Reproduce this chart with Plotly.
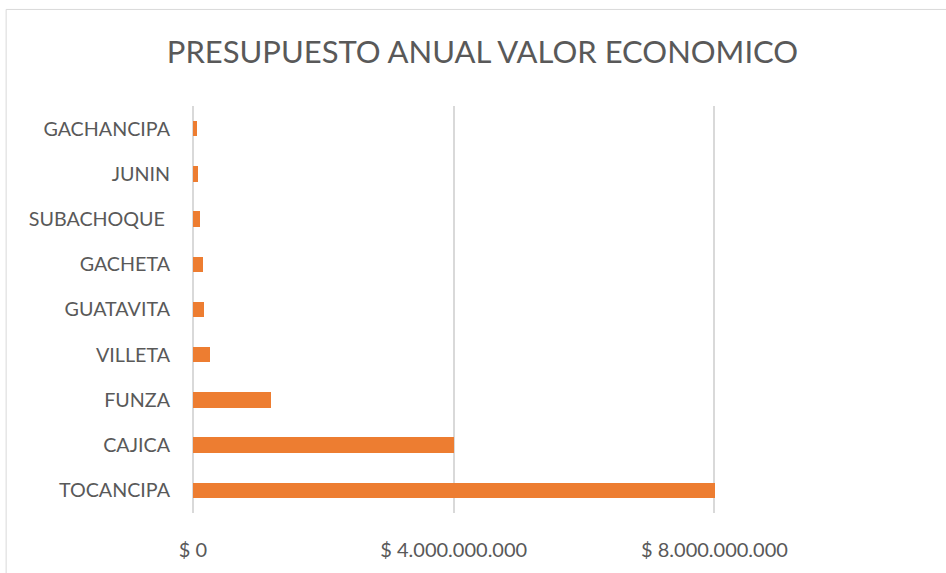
import plotly.graph_objects as go

categories = ["TOCANCIPA", "CAJICA", "FUNZA", "VILLETA", "GUATAVITA",
              "GACHETA", "SUBACHOQUE ", "JUNIN", "GACHANCIPA"]
values = [8.01e9, 4.0e9, 1.2e9, 0.258e9, 0.176e9, 0.156e9, 0.10e9, 0.08e9, 0.058e9]
tick_values = [0, 4e9, 8e9]
tick_labels = ["$ 0", "$ 4.000.000.000", "$ 8.000.000.000"]

W, H = 946, 573
ml, mr, mt, mb = 192.5, 21, 106, 56
pw, ph = W - ml - mr, H - mt - mb

fig = go.Figure(go.Bar(
    x=values, y=categories, orientation="h",
    marker=dict(color="#ED7D31", line=dict(width=0)),
    width=0.34,
    hoverinfo="skip",
))

fig.update_layout(
    width=W, height=H,
    margin=dict(l=ml, r=mr, t=mt, b=mb, pad=0),
    paper_bgcolor="white", plot_bgcolor="white",
    font=dict(family="Lato, Open Sans, sans-serif", color="#595959", size=19.5),
    title=dict(text="PRESUPUESTO ANUAL VALOR ECONOMICO",
               x=482.5 / W, xanchor="center", y=1 - 52 / H, yanchor="middle",
               font=dict(size=31, color="#595959")),
    showlegend=False,
    bargap=0,
)
fig.update_xaxes(range=[0, 8e9 * pw / (714.3 - 192.5)],
                 tickvals=tick_values, ticktext=tick_labels,
                 showgrid=True, gridcolor="#D9D9D9", gridwidth=1.5,
                 zeroline=True, zerolinecolor="#D9D9D9", zerolinewidth=1.5,
                 showline=False, ticks="", ticklabelstandoff=23,
                 tickfont=dict(size=20, color="#595959"))
fig.update_yaxes(showgrid=False, showline=False, ticks="", ticklabelstandoff=22,
                 tickfont=dict(size=19.7, color="#595959"))

fig.add_shape(type="rect", xref="paper", yref="paper",
              x0=(5.5 - ml) / pw, x1=1.2, y0=-0.3, y1=(H - mb - 8.5) / ph,
              line=dict(color="#D9D9D9", width=1), fillcolor="rgba(0,0,0,0)",
              layer="below")

fig.write_html("out.html", config={"displayModeBar": False},
               post_script="document.body.style.margin='0';document.body.style.padding='0';")
